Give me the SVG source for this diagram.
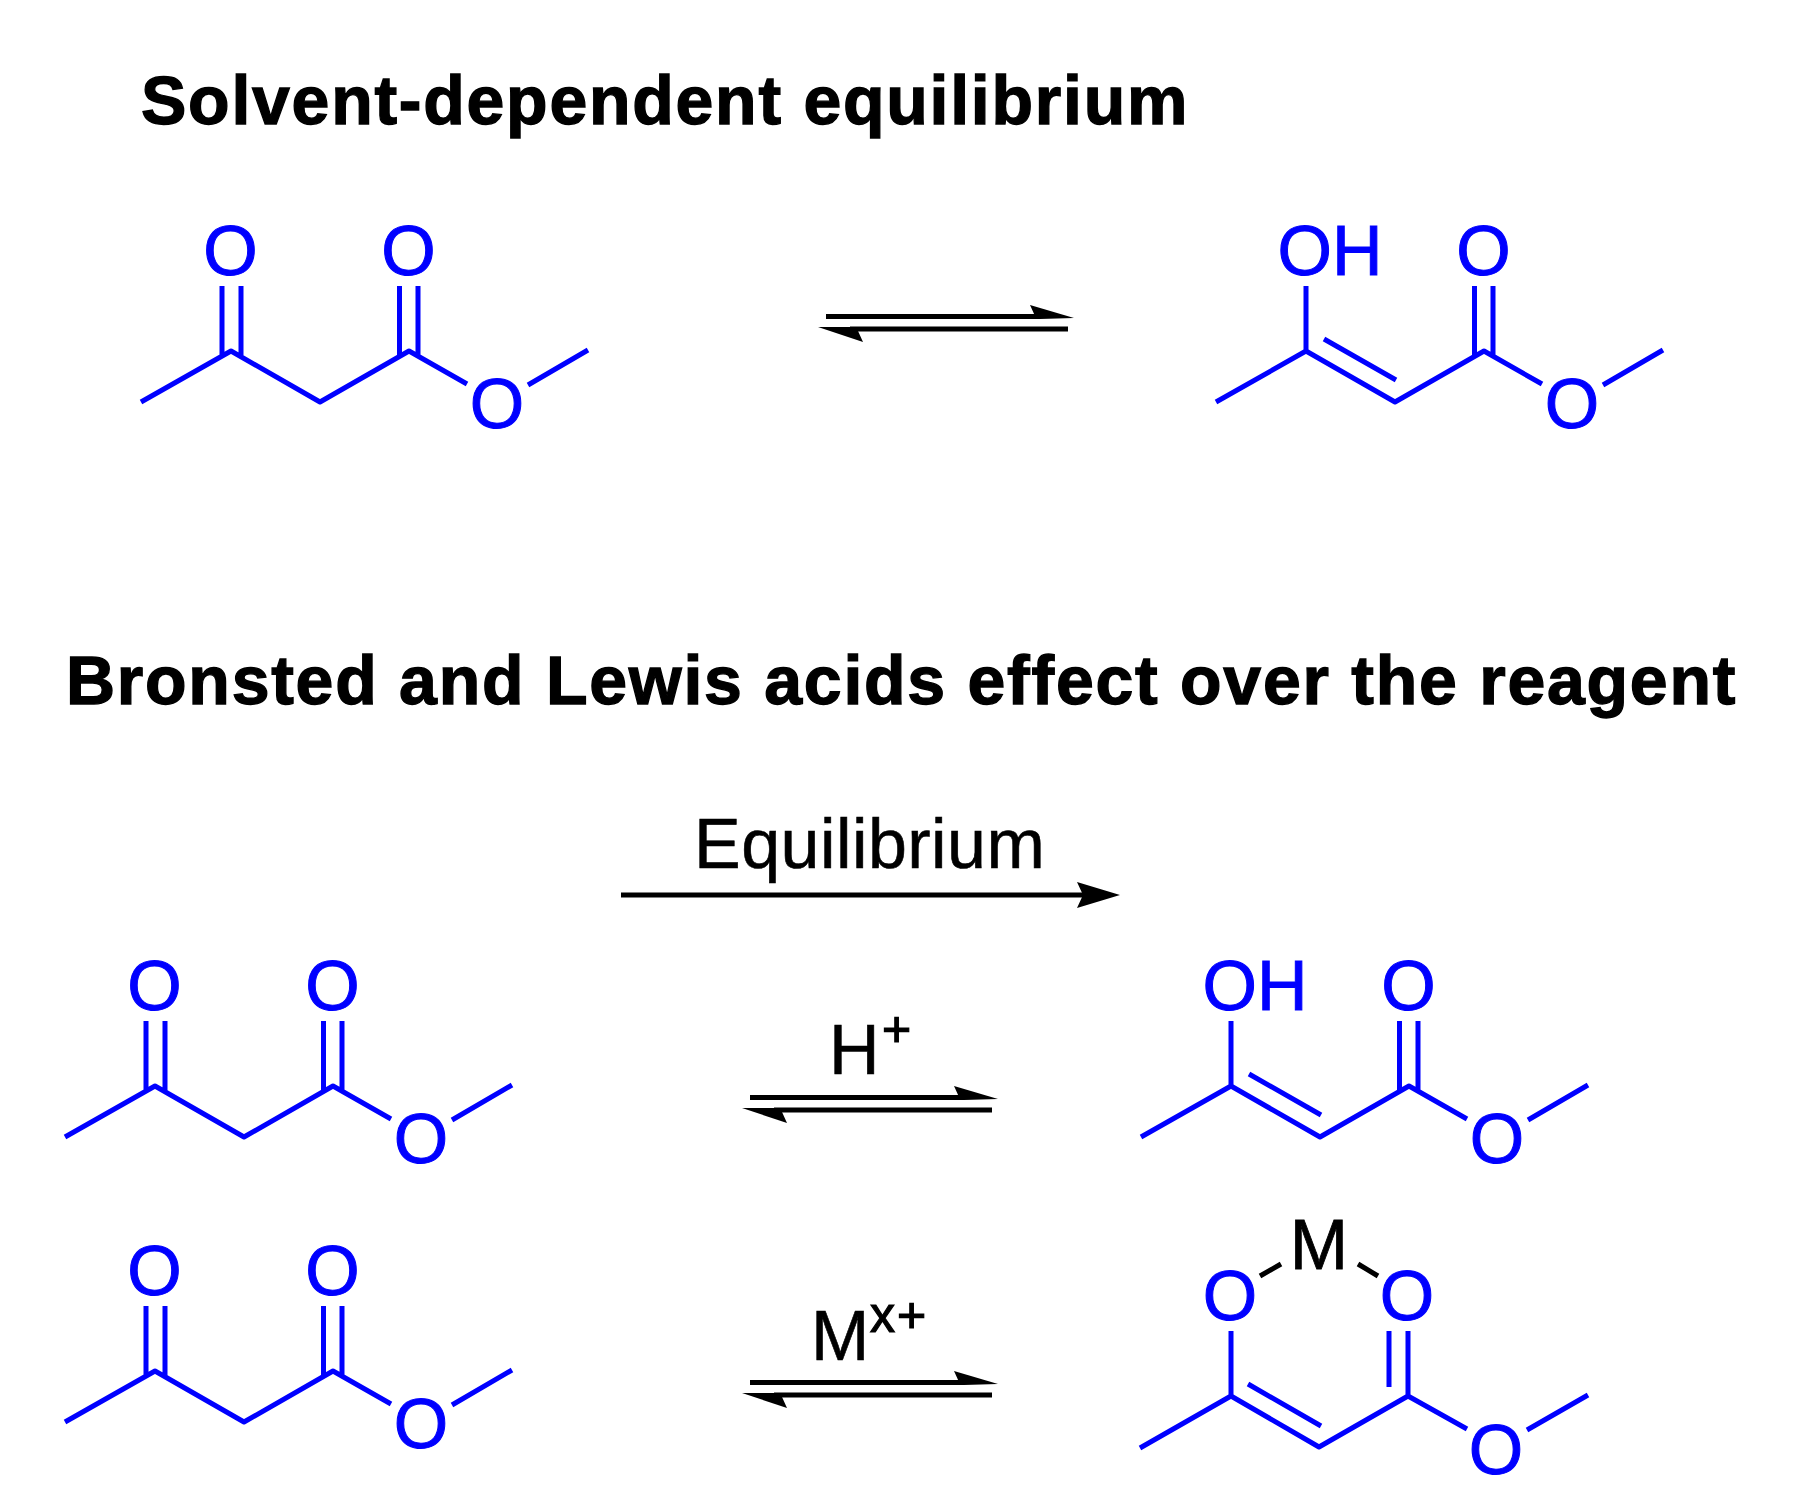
<svg xmlns="http://www.w3.org/2000/svg" width="1801" height="1507" viewBox="0 0 1801 1507">
<style>
text{font-family:"Liberation Sans",Arial,sans-serif;}
.t{font-size:68px;font-weight:bold;fill:#000;stroke:#000;stroke-width:1.300;letter-spacing:1.750px}
.a{font-size:70px;fill:#0000ff;stroke:#0000ff;stroke-width:1;text-anchor:middle}
.m{font-size:70px;fill:#000;stroke:#000;stroke-width:.8;text-anchor:middle}
.l{font-size:70px;fill:#000;stroke:#000;stroke-width:.6}
.s{font-size:50px;fill:#000;stroke:#000;stroke-width:1.200}
.b{fill:none;stroke:#0000ff;stroke-width:5;stroke-linejoin:round}
.k{fill:none;stroke:#000;stroke-width:5}
.h{fill:#000}
.c{fill:none;stroke:#000;stroke-width:5}
</style>
<defs>
<g id="keto">
<path class="b" d="M141 402L231 351L320 402L409 351L467 384M528 385L588 350M222 286V356M241 286V356M399.500 286V356M418 286V356"/>
<text class="a" x="230.500" y="275">O</text>
<text class="a" x="408.500" y="275">O</text>
<text class="a" x="497" y="428">O</text>
</g>
<g id="enol">
<path class="b" d="M141 402L231 351L320 402L409 351L467 384M528 385L588 350M231 286V351M249 339L321 380M399.500 286V356M418 286V356"/>
<text class="a" x="255" y="275">OH</text>
<text class="a" x="408.500" y="275">O</text>
<text class="a" x="497" y="428">O</text>
</g>
<g id="eq">
<path class="k" d="M826 316.500H1040M1068 329H850"/>
<path class="h" d="M1074 318L1030 305L1035 316L1040 319Z"/>
<path class="h" d="M818 327L863 342L858 331L853 327Z"/>
</g>
</defs>
<text class="t" x="141" y="124">Solvent-dependent equilibrium</text>
<text class="t" x="66" y="704">Bronsted and Lewis acids effect over the reagent</text>
<g id="connectors">
<use id="eq-top" href="#eq"/>
<g id="arrow-equilibrium">
<path class="k" d="M621 895H1090"/>
<path class="h" d="M1120 895L1077 882L1083 895L1077 908Z"/>
</g>
<use id="eq-mid" href="#eq" x="-76" y="781"/>
<use id="eq-bottom" href="#eq" x="-76" y="1066"/>
</g>
<g id="keto-top"><use href="#keto"/></g>
<g id="enol-top"><use href="#enol" x="1075"/></g>
<g id="keto-mid"><use href="#keto" x="-76" y="735"/></g>
<g id="enol-mid"><use href="#enol" x="1000" y="735"/></g>
<g id="keto-bottom"><use href="#keto" x="-76" y="1020"/></g>
<g id="chelate">
<path class="b" d="M1140 1448L1231 1396L1319 1447L1408 1396L1467 1429M1527 1430L1588 1395M1231 1331V1396M1248 1384L1321 1426M1389 1331V1387M1408 1331V1396"/>
<path class="c" d="M1260 1276L1281 1264M1358 1264L1378 1276"/>
<text class="a" x="1230" y="1320">O</text>
<text class="a" x="1407" y="1320">O</text>
<text class="a" x="1496" y="1474">O</text>
<text class="m" x="1319" y="1269">M</text>
</g>
<g id="labels">
<text class="l" x="694" y="868" style="letter-spacing:.45px">Equilibrium</text>
<text class="l" x="829" y="1074">H</text>
<text class="s" x="882" y="1046">+</text>
<text class="l" x="811" y="1360">M</text>
<text class="s" x="870" y="1332" style="letter-spacing:2px">x+</text>
</g>
</svg>
